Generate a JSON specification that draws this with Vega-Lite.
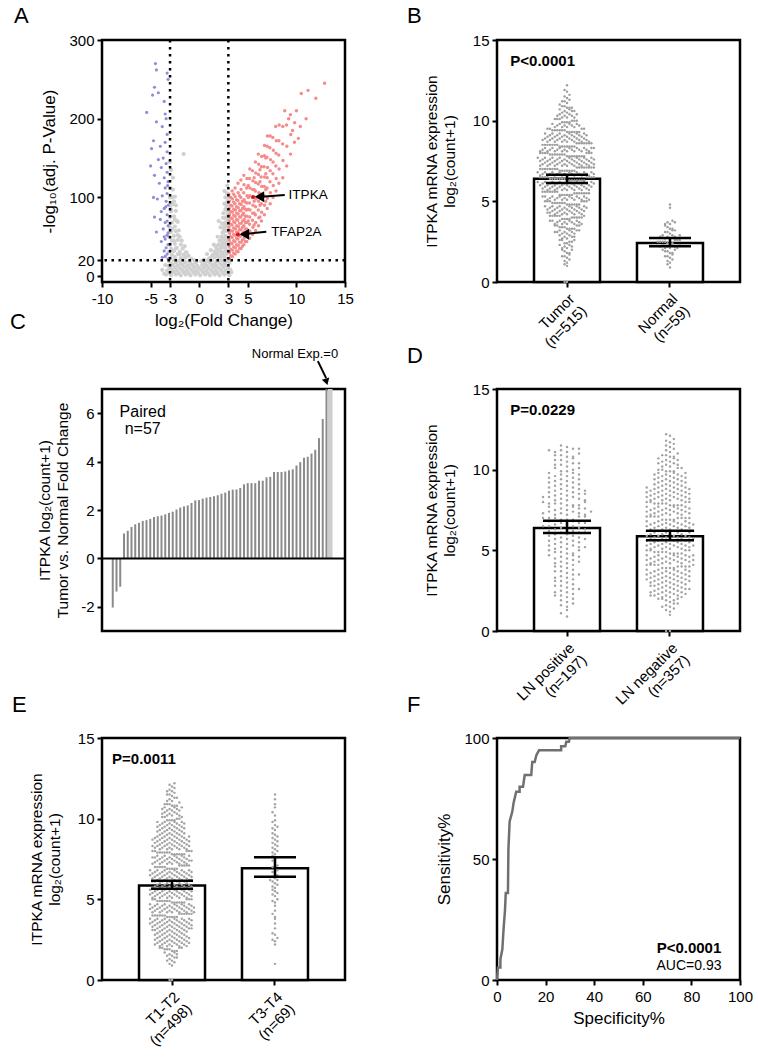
{
"$schema":"https://vega.github.io/schema/vega-lite/v6.json",
"background":"white",
"padding":{"left":8,"top":3,"right":0,"bottom":0},
"config":{
 "font":"Liberation Sans",
 "view":{"stroke":"black","strokeWidth":2.5},
 "axis":{"grid":false,"domain":false,"tickColor":"black","tickWidth":2,"tickSize":5,"labelColor":"black","labelFontSize":15,"labelFont":"Liberation Sans","labelOverlap":false,"labelFlush":false,"titleColor":"black","titleFont":"Liberation Sans","titleFontSize":15.5,"titleFontWeight":"normal","titleLineHeight":18},
 "axisX":{"labelPadding":4,"titlePadding":6},
 "axisY":{"labelPadding":3,"titlePadding":10},
 "title":{"font":"Liberation Sans","fontSize":22,"fontWeight":"normal","anchor":"start","frame":"group","color":"black","baseline":"alphabetic"},
 "text":{"font":"Liberation Sans","color":"black"}
},
"datasets":{
 "volGray":[{"x":-3.4,"y":2},{"x":-2.9,"y":1},{"x":-2.4,"y":2},{"x":-1.9,"y":1},{"x":-1.4,"y":2},{"x":-0.9,"y":1},{"x":-0.4,"y":2},{"x":0.1,"y":1},{"x":0.6,"y":2},{"x":1.1,"y":1},{"x":1.6,"y":2},{"x":2.1,"y":1},{"x":2.6,"y":2},{"x":3.1,"y":1},
 {"x":-3.1,"y":4},{"x":-2.6,"y":5},{"x":-2.1,"y":4},{"x":-1.6,"y":5},{"x":-1.1,"y":4},{"x":-0.6,"y":5},{"x":-0.1,"y":4},{"x":0.4,"y":5},{"x":0.9,"y":4},{"x":1.4,"y":5},{"x":1.9,"y":4},{"x":2.4,"y":5},{"x":2.9,"y":4},{"x":3.3,"y":5},
 {"x":-3.3,"y":7},{"x":-2.8,"y":8},{"x":-2.3,"y":7},{"x":-1.8,"y":8},{"x":-1.3,"y":7},{"x":-0.8,"y":8},{"x":-0.3,"y":7},{"x":0.2,"y":8},{"x":0.7,"y":7},{"x":1.2,"y":8},{"x":1.7,"y":7},{"x":2.2,"y":8},{"x":2.7,"y":7},{"x":3.2,"y":8},
 {"x":-3.0,"y":10},{"x":-2.5,"y":11},{"x":-2.0,"y":10},{"x":-1.5,"y":11},{"x":-1.0,"y":10},{"x":-0.5,"y":11},{"x":0.0,"y":10},{"x":0.5,"y":11},{"x":1.0,"y":10},{"x":1.5,"y":11},{"x":2.0,"y":10},{"x":2.5,"y":11},{"x":3.0,"y":10},
 {"x":-3.2,"y":13},{"x":-2.7,"y":14},{"x":-2.2,"y":13},{"x":-1.7,"y":14},{"x":-1.2,"y":13},{"x":-0.7,"y":14},{"x":-0.2,"y":13},{"x":0.3,"y":14},{"x":0.8,"y":13},{"x":1.3,"y":14},{"x":1.8,"y":13},{"x":2.3,"y":14},{"x":2.8,"y":13},
 {"x":-2.9,"y":16},{"x":-2.4,"y":17},{"x":-1.9,"y":16},{"x":-1.4,"y":17},{"x":-0.9,"y":16},{"x":-0.4,"y":17},{"x":0.6,"y":16},{"x":1.1,"y":17},{"x":1.6,"y":16},{"x":2.1,"y":17},{"x":2.6,"y":16},{"x":3.1,"y":17},
 {"x":-3.1,"y":19},{"x":-2.6,"y":20},{"x":-2.1,"y":19},{"x":-1.6,"y":20},{"x":-1.0,"y":19},{"x":-0.3,"y":18},{"x":0.8,"y":19},{"x":1.3,"y":20},{"x":1.8,"y":19},{"x":2.3,"y":20},{"x":2.8,"y":19},
 {"x":-3.0,"y":23},{"x":-2.5,"y":24},{"x":-1.9,"y":23},{"x":-1.4,"y":24},{"x":-0.8,"y":22},{"x":1.1,"y":23},{"x":1.6,"y":24},{"x":2.1,"y":23},{"x":2.6,"y":24},{"x":2.9,"y":22},
 {"x":-2.8,"y":27},{"x":-2.2,"y":28},{"x":-1.6,"y":27},{"x":-1.1,"y":26},{"x":1.4,"y":27},{"x":1.9,"y":28},{"x":2.4,"y":27},{"x":2.8,"y":28},
 {"x":-3.1,"y":31},{"x":-2.6,"y":32},{"x":-2.0,"y":31},{"x":-1.4,"y":30},{"x":1.6,"y":31},{"x":2.1,"y":32},{"x":2.6,"y":31},{"x":2.9,"y":33},
 {"x":-2.9,"y":35},{"x":-2.3,"y":36},{"x":-1.7,"y":35},{"x":1.8,"y":35},{"x":2.3,"y":36},{"x":2.7,"y":35},
 {"x":-3.0,"y":40},{"x":-2.5,"y":41},{"x":-1.9,"y":40},{"x":2.0,"y":40},{"x":2.4,"y":41},{"x":2.8,"y":40},
 {"x":-2.8,"y":45},{"x":-2.2,"y":46},{"x":2.2,"y":45},{"x":2.6,"y":46},{"x":2.9,"y":45},
 {"x":-3.1,"y":50},{"x":-2.6,"y":51},{"x":-2.0,"y":50},{"x":2.3,"y":50},{"x":2.7,"y":51},
 {"x":-2.9,"y":56},{"x":-2.4,"y":57},{"x":2.5,"y":56},{"x":2.9,"y":57},
 {"x":-3.0,"y":62},{"x":-2.5,"y":63},{"x":2.6,"y":62},{"x":2.9,"y":63},
 {"x":-2.8,"y":68},{"x":-2.2,"y":69},{"x":2.7,"y":68},{"x":2.95,"y":69},
 {"x":-3.0,"y":75},{"x":-2.6,"y":76},{"x":2.8,"y":75},
 {"x":-2.9,"y":82},{"x":-2.4,"y":83},{"x":2.9,"y":82},
 {"x":-3.0,"y":90},{"x":-2.7,"y":91},{"x":2.95,"y":90},
 {"x":-2.8,"y":100},{"x":-2.5,"y":101},{"x":-3.0,"y":112},{"x":-2.7,"y":125},{"x":-1.6,"y":155},{"x":-2.9,"y":135},{"x":-3.05,"y":145},
 {"x":2.2,"y":38},{"x":2.5,"y":48},{"x":2.8,"y":58},{"x":2.6,"y":66},{"x":2.9,"y":72},{"x":2.4,"y":55},{"x":2.7,"y":85},{"x":2.9,"y":95},{"x":2.85,"y":105},{"x":2.5,"y":80},{"x":2.2,"y":62},{"x":1.9,"y":50},{"x":1.5,"y":40},{"x":1.2,"y":33},{"x":0.8,"y":28},{"x":2.0,"y":70},
 {"x":-2.3,"y":70},{"x":-2.1,"y":58},{"x":-1.8,"y":45},{"x":-1.5,"y":38},{"x":-2.7,"y":110},{"x":-2.4,"y":90},{"x":-1.3,"y":30},
 {"x":-3.6,"y":3},{"x":-3.8,"y":8},{"x":-3.5,"y":14},
 {"x":1.0,"y":22},{"x":1.3,"y":25},{"x":1.7,"y":29},{"x":2.0,"y":33},{"x":2.3,"y":30},{"x":2.6,"y":37},{"x":2.8,"y":43},{"x":2.45,"y":42},{"x":2.1,"y":45},{"x":1.7,"y":38},{"x":2.75,"y":50},{"x":2.55,"y":60},{"x":2.35,"y":67},{"x":2.75,"y":65},{"x":2.95,"y":78},{"x":2.65,"y":74},{"x":2.45,"y":74},{"x":2.8,"y":90},{"x":2.6,"y":92},{"x":2.95,"y":100},{"x":2.7,"y":100},{"x":2.9,"y":115},{"x":2.6,"y":108},{"x":0.5,"y":21},{"x":0.2,"y":19},{"x":-0.5,"y":20},{"x":1.9,"y":25},{"x":2.3,"y":26},
 {"x":-2.8,"y":60},{"x":-2.6,"y":45},{"x":-2.4,"y":35},{"x":-2.0,"y":28},{"x":-1.8,"y":22},{"x":-2.9,"y":85},{"x":-2.5,"y":72},{"x":-2.2,"y":52},{"x":-3.0,"y":100},{"x":-2.6,"y":95}],
 "volBlue":[{"x":-4.5,"y":270},{"x":-4.4,"y":262},{"x":-3.3,"y":258},{"x":-3.2,"y":250},{"x":-4.6,"y":240},{"x":-4.2,"y":233},{"x":-4.8,"y":230},{"x":-3.6,"y":222},{"x":-5.4,"y":208},{"x":-3.5,"y":206},{"x":-3.4,"y":200},{"x":-4.4,"y":196},{"x":-3.8,"y":190},{"x":-3.3,"y":180},{"x":-4.7,"y":172},{"x":-3.5,"y":170},{"x":-4.0,"y":165},{"x":-4.9,"y":162},{"x":-3.3,"y":158},{"x":-3.7,"y":150},{"x":-4.2,"y":148},{"x":-3.4,"y":143},{"x":-3.9,"y":138},{"x":-3.3,"y":132},{"x":-4.6,"y":128},{"x":-3.6,"y":125},{"x":-3.2,"y":120},{"x":-4.1,"y":118},{"x":-3.5,"y":112},{"x":-3.3,"y":105},{"x":-3.8,"y":102},{"x":-4.3,"y":98},{"x":-3.4,"y":95},{"x":-3.2,"y":90},{"x":-3.6,"y":86},{"x":-3.9,"y":82},{"x":-3.3,"y":78},{"x":-4.0,"y":72},{"x":-3.5,"y":68},{"x":-3.2,"y":64},{"x":-3.7,"y":60},{"x":-4.4,"y":56},{"x":-3.3,"y":52},{"x":-3.5,"y":47},{"x":-3.9,"y":44},{"x":-3.2,"y":40},{"x":-3.4,"y":36},{"x":-3.6,"y":32},{"x":-3.3,"y":28},{"x":-3.5,"y":25},{"x":-3.2,"y":22},{"x":-3.8,"y":24},{"x":-4.7,"y":100},{"x":-5.0,"y":140},{"x":-4.6,"y":75},{"x":-3.25,"y":115},{"x":-3.45,"y":88},{"x":-3.3,"y":70},{"x":-3.2,"y":55},{"x":-3.6,"y":50}],
 "volRed":[{"x":3.1,"y":22},{"x":3.12,"y":30},{"x":3.08,"y":38},{"x":3.1,"y":46},{"x":3.13,"y":54},{"x":3.07,"y":62},{"x":3.1,"y":70},{"x":3.12,"y":78},{"x":3.09,"y":86},{"x":3.1,"y":95},{"x":3.06,"y":104},
 {"x":3.4,"y":25},{"x":3.42,"y":33},{"x":3.38,"y":41},{"x":3.4,"y":49},{"x":3.43,"y":57},{"x":3.37,"y":65},{"x":3.4,"y":73},{"x":3.42,"y":81},{"x":3.38,"y":89},{"x":3.41,"y":98},{"x":3.39,"y":108},
 {"x":3.7,"y":28},{"x":3.72,"y":36},{"x":3.68,"y":44},{"x":3.7,"y":52},{"x":3.73,"y":60},{"x":3.67,"y":68},{"x":3.7,"y":76},{"x":3.72,"y":84},{"x":3.68,"y":92},{"x":3.71,"y":101},{"x":3.69,"y":112},
 {"x":4.0,"y":31},{"x":4.02,"y":39},{"x":3.98,"y":47},{"x":4.0,"y":55},{"x":4.03,"y":63},{"x":3.97,"y":71},{"x":4.0,"y":79},{"x":4.02,"y":87},{"x":3.98,"y":96},{"x":4.01,"y":106},{"x":3.99,"y":118},
 {"x":4.3,"y":35},{"x":4.32,"y":43},{"x":4.28,"y":51},{"x":4.3,"y":59},{"x":4.33,"y":67},{"x":4.27,"y":75},{"x":4.3,"y":83},{"x":4.32,"y":91},{"x":4.28,"y":100},{"x":4.31,"y":110},{"x":4.29,"y":122},
 {"x":4.6,"y":40},{"x":4.62,"y":48},{"x":4.58,"y":56},{"x":4.6,"y":64},{"x":4.63,"y":72},{"x":4.57,"y":80},{"x":4.6,"y":88},{"x":4.62,"y":97},{"x":4.58,"y":106},{"x":4.61,"y":116},{"x":4.59,"y":128},
 {"x":4.9,"y":44},{"x":4.92,"y":52},{"x":4.88,"y":60},{"x":4.9,"y":68},{"x":4.93,"y":76},{"x":4.87,"y":84},{"x":4.9,"y":93},{"x":4.92,"y":102},{"x":4.88,"y":112},{"x":4.91,"y":124},
 {"x":5.2,"y":48},{"x":5.22,"y":57},{"x":5.18,"y":66},{"x":5.2,"y":75},{"x":5.23,"y":84},{"x":5.17,"y":93},{"x":5.2,"y":102},{"x":5.22,"y":112},{"x":5.18,"y":124},{"x":5.21,"y":136},
 {"x":5.5,"y":53},{"x":5.52,"y":62},{"x":5.48,"y":71},{"x":5.5,"y":80},{"x":5.53,"y":90},{"x":5.47,"y":100},{"x":5.5,"y":110},{"x":5.52,"y":121},{"x":5.48,"y":134},
 {"x":5.8,"y":58},{"x":5.82,"y":68},{"x":5.78,"y":78},{"x":5.8,"y":88},{"x":5.83,"y":98},{"x":5.77,"y":108},{"x":5.8,"y":119},{"x":5.82,"y":131},{"x":5.78,"y":145},
 {"x":6.1,"y":64},{"x":6.12,"y":74},{"x":6.08,"y":84},{"x":6.1,"y":95},{"x":6.13,"y":106},{"x":6.07,"y":117},{"x":6.1,"y":129},{"x":6.12,"y":142},{"x":6.08,"y":155},
 {"x":6.4,"y":70},{"x":6.42,"y":81},{"x":6.38,"y":92},{"x":6.4,"y":103},{"x":6.43,"y":114},{"x":6.37,"y":126},{"x":6.4,"y":139},{"x":6.42,"y":152},
 {"x":6.7,"y":78},{"x":6.72,"y":90},{"x":6.68,"y":102},{"x":6.7,"y":114},{"x":6.73,"y":126},{"x":6.67,"y":139},{"x":6.7,"y":153},{"x":6.72,"y":166},
 {"x":7.0,"y":86},{"x":7.02,"y":99},{"x":6.98,"y":112},{"x":7.0,"y":125},{"x":7.03,"y":138},{"x":6.97,"y":151},{"x":7.0,"y":165},{"x":7.02,"y":178},
 {"x":7.3,"y":92},{"x":7.32,"y":106},{"x":7.28,"y":120},{"x":7.3,"y":134},{"x":7.33,"y":148},{"x":7.27,"y":163},{"x":7.3,"y":178},
 {"x":7.6,"y":100},{"x":7.62,"y":115},{"x":7.58,"y":130},{"x":7.6,"y":145},{"x":7.63,"y":160},{"x":7.57,"y":176},
 {"x":7.9,"y":108},{"x":7.92,"y":124},{"x":7.88,"y":140},{"x":7.9,"y":156},{"x":7.93,"y":172},{"x":7.87,"y":190},
 {"x":8.2,"y":118},{"x":8.22,"y":136},{"x":8.18,"y":154},{"x":8.2,"y":172},{"x":8.23,"y":192},
 {"x":8.6,"y":125},{"x":8.62,"y":147},{"x":8.58,"y":168},{"x":8.6,"y":190},
 {"x":9.0,"y":140},{"x":9.02,"y":165},{"x":8.98,"y":192},
 {"x":9.4,"y":155},{"x":9.42,"y":180},{"x":9.38,"y":205},
 {"x":9.8,"y":170},{"x":9.82,"y":195},{"x":10.2,"y":175},
 {"x":10.5,"y":232},{"x":11.2,"y":236},{"x":12.0,"y":226},{"x":12.9,"y":245},{"x":10.0,"y":210},{"x":11.0,"y":200},{"x":9.6,"y":185},{"x":10.4,"y":190},{"x":9.2,"y":200},{"x":8.8,"y":210},
 {"x":3.25,"y":26},{"x":3.25,"y":34},{"x":3.25,"y":42},{"x":3.25,"y":50},{"x":3.25,"y":58},{"x":3.25,"y":66},{"x":3.25,"y":74},{"x":3.25,"y":82},{"x":3.25,"y":90},{"x":3.25,"y":100},
 {"x":3.55,"y":29},{"x":3.55,"y":37},{"x":3.55,"y":45},{"x":3.55,"y":53},{"x":3.55,"y":61},{"x":3.55,"y":69},{"x":3.55,"y":77},{"x":3.55,"y":85},{"x":3.55,"y":94},{"x":3.55,"y":104},
 {"x":3.85,"y":32},{"x":3.85,"y":40},{"x":3.85,"y":48},{"x":3.85,"y":56},{"x":3.85,"y":64},{"x":3.85,"y":72},{"x":3.85,"y":80},{"x":3.85,"y":88},{"x":3.85,"y":97},
 {"x":4.15,"y":35},{"x":4.15,"y":43},{"x":4.15,"y":51},{"x":4.15,"y":59},{"x":4.15,"y":67},{"x":4.15,"y":75},{"x":4.15,"y":83},{"x":4.15,"y":92},{"x":4.15,"y":102},
 {"x":4.45,"y":38},{"x":4.45,"y":46},{"x":4.45,"y":54},{"x":4.45,"y":62},{"x":4.45,"y":70},{"x":4.45,"y":78},{"x":4.45,"y":86},{"x":4.45,"y":95},
 {"x":4.75,"y":44},{"x":4.75,"y":52},{"x":4.75,"y":60},{"x":4.75,"y":68},{"x":4.75,"y":76},{"x":4.75,"y":85},{"x":4.75,"y":94},
 {"x":5.05,"y":55},{"x":5.05,"y":70},{"x":5.05,"y":85},{"x":5.05,"y":100},{"x":5.05,"y":115},
 {"x":5.65,"y":65},{"x":5.65,"y":80},{"x":5.65,"y":95},{"x":5.65,"y":110},{"x":5.65,"y":125},
 {"x":6.25,"y":75},{"x":6.25,"y":90},{"x":6.25,"y":105},{"x":6.25,"y":120},{"x":6.25,"y":135},
 {"x":6.85,"y":95},{"x":6.85,"y":110},{"x":6.85,"y":130},{"x":6.85,"y":150}],
 "sumB":[{"g":"Tumor","m":6.4,"lo":6.14,"hi":6.65},{"g":"Normal","m":2.42,"lo":2.21,"hi":2.73}],
 "sumD":[{"g":"LN positive","m":6.39,"lo":6.08,"hi":6.84},{"g":"LN negative","m":5.87,"lo":5.62,"hi":6.22}],
 "sumE":[{"g":"T1-T2","m":5.86,"lo":5.66,"hi":6.15},{"g":"T3-T4","m":6.93,"lo":6.4,"hi":7.61}],
 "tumorB":[0,0,1,1.1,1.2,1.3,1.4,1.5,1.6,1.7,1.8,1.9,1.6,1.8,
 2,2.1,2.2,2.3,2.4,2,2.1,2.2,2.3,2.4,
 2.5,2.6,2.7,2.8,2.9,2.5,2.6,2.7,2.8,2.9,2.6,2.8,
 3,3.1,3.2,3.3,3.4,3,3.1,3.2,3.3,3.4,3,3.1,3.2,3.3,3.4,3.1,3.2,3.3,
 3.5,3.6,3.7,3.8,3.9,3.5,3.6,3.7,3.8,3.9,3.5,3.6,3.7,3.8,3.9,3.5,3.6,3.7,3.8,3.9,3.6,3.8,
 4,4.1,4.2,4.3,4.4,4,4.1,4.2,4.3,4.4,4,4.1,4.2,4.3,4.4,4,4.1,4.2,4.3,4.4,4,4.1,4.2,4.3,4.4,4.1,4.3,
 4.5,4.6,4.7,4.8,4.9,4.5,4.6,4.7,4.8,4.9,4.5,4.6,4.7,4.8,4.9,4.5,4.6,4.7,4.8,4.9,4.5,4.6,4.7,4.8,4.9,4.5,4.6,4.7,4.8,4.9,
 5,5.1,5.2,5.3,5.4,5,5.1,5.2,5.3,5.4,5,5.1,5.2,5.3,5.4,5,5.1,5.2,5.3,5.4,5,5.1,5.2,5.3,5.4,5,5.1,5.2,5.3,5.4,5.1,5.3,
 5.5,5.6,5.7,5.8,5.9,5.5,5.6,5.7,5.8,5.9,5.5,5.6,5.7,5.8,5.9,5.5,5.6,5.7,5.8,5.9,5.5,5.6,5.7,5.8,5.9,5.5,5.6,5.7,5.8,5.9,5.5,5.6,5.7,5.8,5.9,
 6,6.1,6.2,6.3,6.4,6,6.1,6.2,6.3,6.4,6,6.1,6.2,6.3,6.4,6,6.1,6.2,6.3,6.4,6,6.1,6.2,6.3,6.4,6,6.1,6.2,6.3,6.4,6,6.1,6.2,6.3,6.4,6,6.1,6.2,6.3,
 6.5,6.6,6.7,6.8,6.9,6.5,6.6,6.7,6.8,6.9,6.5,6.6,6.7,6.8,6.9,6.5,6.6,6.7,6.8,6.9,6.5,6.6,6.7,6.8,6.9,6.5,6.6,6.7,6.8,6.9,6.5,6.6,6.7,6.8,6.9,6.5,6.6,6.7,6.8,
 7,7.1,7.2,7.3,7.4,7,7.1,7.2,7.3,7.4,7,7.1,7.2,7.3,7.4,7,7.1,7.2,7.3,7.4,7,7.1,7.2,7.3,7.4,7,7.1,7.2,7.3,7.4,7,7.1,7.2,7.3,7.4,7,7.1,7.2,7.3,
 7.5,7.6,7.7,7.8,7.9,7.5,7.6,7.7,7.8,7.9,7.5,7.6,7.7,7.8,7.9,7.5,7.6,7.7,7.8,7.9,7.5,7.6,7.7,7.8,7.9,7.5,7.6,7.7,7.8,7.9,7.5,7.6,7.7,7.8,7.9,7.5,7.6,7.7,7.8,
 8,8.1,8.2,8.3,8.4,8,8.1,8.2,8.3,8.4,8,8.1,8.2,8.3,8.4,8,8.1,8.2,8.3,8.4,8,8.1,8.2,8.3,8.4,8,8.1,8.2,8.3,8.4,8,8.1,8.2,8.3,8.4,8.1,8.3,
 8.5,8.6,8.7,8.8,8.9,8.5,8.6,8.7,8.8,8.9,8.5,8.6,8.7,8.8,8.9,8.5,8.6,8.7,8.8,8.9,8.5,8.6,8.7,8.8,8.9,8.5,8.6,8.7,8.8,8.9,8.5,8.6,8.7,8.8,
 9,9.1,9.2,9.3,9.4,9,9.1,9.2,9.3,9.4,9,9.1,9.2,9.3,9.4,9,9.1,9.2,9.3,9.4,9,9.1,9.2,9.3,9.4,9,9.1,9.2,9.3,9.4,
 9.5,9.6,9.7,9.8,9.9,9.5,9.6,9.7,9.8,9.9,9.5,9.6,9.7,9.8,9.9,9.5,9.6,9.7,9.8,9.9,
 10,10.1,10.2,10.3,10.4,10,10.1,10.2,10.3,10.4,10,10.1,10.2,10.3,10.4,
 10.5,10.6,10.7,10.8,10.9,10.5,10.6,10.7,10.8,10.9,10.6,10.8,
 11,11.1,11.2,11.3,11.4,11.2,11.5,11.6,11.8,11.9,12.2],
 "normalB":[0.9,1.1,1.2,1.3,1.4,1.5,1.6,1.7,1.8,1.9,1.6,1.8,1.9,
 2,2.1,2.2,2.3,2.4,2,2.1,2.2,2.3,2.4,2.1,2.2,2.3,2.4,
 2.5,2.6,2.7,2.8,2.9,2.5,2.6,2.7,2.8,2.9,2.5,2.6,2.7,2.8,2.9,2.5,
 3,3.1,3.2,3.3,3.4,3.1,3.2,3.3,3.5,3.6,3.7,3.8,3.6,3.7,4.6,4.8],
 "lnPos":[0.9,1.1,1.3,1.5,1.6,1.8,1.9,1.7,
 2,2.1,2.2,2.3,2.4,2.5,2.6,2.7,2.8,2.9,2.2,2.4,2.6,2.8,
 3,3.1,3.2,3.3,3.4,3.5,3.6,3.7,3.8,3.9,3.1,3.3,3.5,3.7,
 4,4.1,4.2,4.3,4.4,4.5,4.6,4.7,4.8,4.9,4,4.2,4.3,4.5,4.6,4.7,4.8,4.9,
 5,5.1,5.2,5.3,5.4,5.5,5.6,5.7,5.8,5.9,5,5.1,5.2,5.3,5.4,5.5,5.6,5.7,5.8,5.9,5.2,5.7,
 6,6.1,6.2,6.3,6.4,6.5,6.6,6.7,6.8,6.9,6,6.1,6.2,6.3,6.4,6.5,6.6,6.7,6.8,6.9,6.1,6.3,6.5,6.7,6.9,
 7,7.1,7.2,7.3,7.4,7.5,7.6,7.7,7.8,7.9,7,7.1,7.2,7.3,7.4,7.5,7.6,7.7,7.8,7.9,7,7.2,7.3,7.4,7.6,7.8,7.9,
 8,8.1,8.2,8.3,8.4,8.5,8.6,8.7,8.8,8.9,8,8.1,8.2,8.3,8.4,8.5,8.6,8.7,8.8,8.9,8.1,8.3,8.5,8.7,
 9,9.1,9.2,9.3,9.4,9.5,9.6,9.7,9.8,9.9,9,9.1,9.2,9.3,9.4,9.5,9.6,9.7,9.8,9.9,
 10,10.1,10.2,10.3,10.4,10.5,10.6,10.7,10.8,10.9,10.1,10.3,10.4,10.6,10.8,10.9,
 11,11.1,11.2,11.3,11.4,11.5,11.1,11.3,11.2],
 "lnNeg":[0,0,1,1.2,1.3,1.4,1.5,1.6,1.7,1.8,1.9,1.5,1.7,1.9,
 2,2.1,2.2,2.3,2.4,2.5,2.6,2.7,2.8,2.9,2,2.1,2.2,2.3,2.4,2.5,2.6,2.7,2.8,2.9,2,2.1,2.2,2.3,2.4,2.5,2.6,2.7,2.8,2.9,2.2,2.4,2.6,2.8,
 3,3.1,3.2,3.3,3.4,3.5,3.6,3.7,3.8,3.9,3,3.1,3.2,3.3,3.4,3.5,3.6,3.7,3.8,3.9,3,3.1,3.2,3.3,3.4,3.5,3.6,3.7,3.8,3.9,3,3.1,3.2,3.3,3.4,3.5,3.6,3.7,3.8,3.9,
 4,4.1,4.2,4.3,4.4,4.5,4.6,4.7,4.8,4.9,4,4.1,4.2,4.3,4.4,4.5,4.6,4.7,4.8,4.9,4,4.1,4.2,4.3,4.4,4.5,4.6,4.7,4.8,4.9,4,4.1,4.2,4.3,4.4,4.5,4.6,4.7,4.8,4.9,4.1,4.4,4.7,
 5,5.1,5.2,5.3,5.4,5.5,5.6,5.7,5.8,5.9,5,5.1,5.2,5.3,5.4,5.5,5.6,5.7,5.8,5.9,5,5.1,5.2,5.3,5.4,5.5,5.6,5.7,5.8,5.9,5,5.1,5.2,5.3,5.4,5.5,5.6,5.7,5.8,5.9,5.3,5.7,
 6,6.1,6.2,6.3,6.4,6.5,6.6,6.7,6.8,6.9,6,6.1,6.2,6.3,6.4,6.5,6.6,6.7,6.8,6.9,6,6.1,6.2,6.3,6.4,6.5,6.6,6.7,6.8,6.9,6,6.1,6.2,6.3,6.4,6.5,6.6,6.7,6.8,6.9,6.2,6.6,
 7,7.1,7.2,7.3,7.4,7.5,7.6,7.7,7.8,7.9,7,7.1,7.2,7.3,7.4,7.5,7.6,7.7,7.8,7.9,7,7.1,7.2,7.3,7.4,7.5,7.6,7.7,7.8,7.9,7,7.1,7.2,7.3,7.4,7.5,7.6,7.7,7.8,7.9,
 8,8.1,8.2,8.3,8.4,8.5,8.6,8.7,8.8,8.9,8,8.1,8.2,8.3,8.4,8.5,8.6,8.7,8.8,8.9,8,8.1,8.2,8.3,8.4,8.5,8.6,8.7,8.8,8.9,8,8.1,8.2,8.3,8.4,8.5,8.6,8.7,8.8,8.9,
 9,9.1,9.2,9.3,9.4,9.5,9.6,9.7,9.8,9.9,9,9.1,9.2,9.3,9.4,9.5,9.6,9.7,9.8,9.9,9,9.1,9.2,9.3,9.4,9.5,9.6,9.7,9.8,9.9,
 10,10.1,10.2,10.3,10.4,10.5,10.6,10.7,10.8,10.9,10,10.1,10.2,10.3,10.4,10.5,10.6,10.7,10.8,10.9,
 11,11.1,11.2,11.3,11.4,11.5,11.6,11.7,11.8,11.9,12.1,12.2],
 "t12":[0,0,0.9,1,1.1,1.2,1.3,1.4,1.5,1.6,1.7,1.8,1.9,1.2,1.4,1.5,1.6,1.7,1.8,1.9,1.8,1.9,
 2,2.1,2.2,2.3,2.4,2.5,2.6,2.7,2.8,2.9,2,2.1,2.2,2.3,2.4,2.5,2.6,2.7,2.8,2.9,2,2.1,2.2,2.3,2.4,2.5,2.6,2.7,2.8,2.9,2,2.1,2.2,2.3,2.4,2.5,2.6,2.7,2.8,2.9,2.1,2.2,2.3,2.4,2.5,2.6,2.7,2.8,
 3,3.1,3.2,3.3,3.4,3.5,3.6,3.7,3.8,3.9,3,3.1,3.2,3.3,3.4,3.5,3.6,3.7,3.8,3.9,3,3.1,3.2,3.3,3.4,3.5,3.6,3.7,3.8,3.9,3,3.1,3.2,3.3,3.4,3.5,3.6,3.7,3.8,3.9,3,3.1,3.2,3.3,3.4,3.5,3.6,3.7,3.8,3.9,3.1,3.2,3.3,3.4,3.5,3.6,3.7,3.8,
 4,4.1,4.2,4.3,4.4,4.5,4.6,4.7,4.8,4.9,4,4.1,4.2,4.3,4.4,4.5,4.6,4.7,4.8,4.9,4,4.1,4.2,4.3,4.4,4.5,4.6,4.7,4.8,4.9,4,4.1,4.2,4.3,4.4,4.5,4.6,4.7,4.8,4.9,4,4.1,4.2,4.3,4.4,4.5,4.6,4.7,4.8,4.9,4,4.1,4.2,4.3,4.4,4.5,4.6,4.7,4.8,4.9,4.2,4.5,
 5,5.1,5.2,5.3,5.4,5.5,5.6,5.7,5.8,5.9,5,5.1,5.2,5.3,5.4,5.5,5.6,5.7,5.8,5.9,5,5.1,5.2,5.3,5.4,5.5,5.6,5.7,5.8,5.9,5,5.1,5.2,5.3,5.4,5.5,5.6,5.7,5.8,5.9,5,5.1,5.2,5.3,5.4,5.5,5.6,5.7,5.8,5.9,5.1,5.2,5.3,5.4,5.5,5.6,5.7,5.8,
 6,6.1,6.2,6.3,6.4,6.5,6.6,6.7,6.8,6.9,6,6.1,6.2,6.3,6.4,6.5,6.6,6.7,6.8,6.9,6,6.1,6.2,6.3,6.4,6.5,6.6,6.7,6.8,6.9,6,6.1,6.2,6.3,6.4,6.5,6.6,6.7,6.8,6.9,6,6.1,6.2,6.3,6.4,6.5,6.6,6.7,6.8,6.9,6.1,6.2,6.3,6.4,6.5,6.6,6.7,6.8,
 7,7.1,7.2,7.3,7.4,7.5,7.6,7.7,7.8,7.9,7,7.1,7.2,7.3,7.4,7.5,7.6,7.7,7.8,7.9,7,7.1,7.2,7.3,7.4,7.5,7.6,7.7,7.8,7.9,7,7.1,7.2,7.3,7.4,7.5,7.6,7.7,7.8,7.9,7,7.1,7.2,7.3,7.4,7.5,7.6,7.7,7.8,7.9,7.2,7.4,7.6,7.8,7.9,
 8,8.1,8.2,8.3,8.4,8.5,8.6,8.7,8.8,8.9,8,8.1,8.2,8.3,8.4,8.5,8.6,8.7,8.8,8.9,8,8.1,8.2,8.3,8.4,8.5,8.6,8.7,8.8,8.9,8,8.1,8.2,8.3,8.4,8.5,8.6,8.7,8.8,8.9,8,8.1,8.2,8.3,8.4,8.5,8.6,8.7,8.8,8.9,8.3,8.7,
 9,9.1,9.2,9.3,9.4,9.5,9.6,9.7,9.8,9.9,9,9.1,9.2,9.3,9.4,9.5,9.6,9.7,9.8,9.9,9,9.1,9.2,9.3,9.4,9.5,9.6,9.7,9.8,9.9,9,9.1,9.2,9.3,9.4,9.5,9.6,9.7,9.8,9.9,
 10,10.1,10.2,10.3,10.4,10.5,10.6,10.7,10.8,10.9,10,10.1,10.2,10.3,10.4,10.5,10.6,10.7,10.8,10.9,10.1,10.2,10.3,10.5,10.6,10.7,10.8,10.9,
 11,11.1,11.2,11.3,11.4,11.5,11.6,11.7,11.8,11.9,11.1,11.3,11.5,11.7,12,12.1,12.2],
 "t34":[1,2.2,2.4,2.5,2.6,2.8,2.9,3.2,3.5,3.8,3.9,4.1,4.3,4.6,4.8,4.9,5,5.2,5.3,5.5,5.6,5.7,5.8,5.9,5.4,6,6.1,6.2,6.3,6.4,6.5,6.6,6.7,6.8,6.9,6.2,7,7.1,7.3,7.4,7.5,7.7,7.8,7.9,7.6,8,8.1,8.2,8.3,8.4,8.5,8.6,8.7,8.8,8.9,9,9.1,9.3,9.4,9.6,9.8,9.9,9.5,10.2,10.4,10.7,10.9,11.2,11.5],
 "paired":[{"i":1,"v":-2.03},{"i":2,"v":-1.37},{"i":3,"v":-1.17},{"i":4,"v":1.03},{"i":5,"v":1.14},{"i":6,"v":1.3},{"i":7,"v":1.41},{"i":8,"v":1.47},{"i":9,"v":1.55},{"i":10,"v":1.58},{"i":11,"v":1.63},{"i":12,"v":1.71},{"i":13,"v":1.74},{"i":14,"v":1.77},{"i":15,"v":1.82},{"i":16,"v":1.88},{"i":17,"v":1.93},{"i":18,"v":2.02},{"i":19,"v":2.1},{"i":20,"v":2.15},{"i":21,"v":2.19},{"i":22,"v":2.29},{"i":23,"v":2.4},{"i":24,"v":2.41},{"i":25,"v":2.47},{"i":26,"v":2.51},{"i":27,"v":2.54},{"i":28,"v":2.57},{"i":29,"v":2.61},{"i":30,"v":2.67},{"i":31,"v":2.72},{"i":32,"v":2.8},{"i":33,"v":2.84},{"i":34,"v":2.85},{"i":35,"v":2.91},{"i":36,"v":3.06},{"i":37,"v":3.11},{"i":38,"v":3.11},{"i":39,"v":3.11},{"i":40,"v":3.21},{"i":41,"v":3.21},{"i":42,"v":3.35},{"i":43,"v":3.37},{"i":44,"v":3.57},{"i":45,"v":3.57},{"i":46,"v":3.57},{"i":47,"v":3.59},{"i":48,"v":3.64},{"i":49,"v":3.68},{"i":50,"v":3.84},{"i":51,"v":3.98},{"i":52,"v":4.16},{"i":53,"v":4.2},{"i":54,"v":4.33},{"i":55,"v":4.49},{"i":56,"v":4.97},{"i":57,"v":5.76},{"i":58,"v":7}],
 "roc":[{"i":0,"s":0,"e":0},{"i":1,"s":0.4,"e":5.2},{"i":2,"s":1.4,"e":5.2},{"i":3,"s":1.4,"e":8.6},{"i":4,"s":2.2,"e":12.7},{"i":5,"s":2.7,"e":21},{"i":6,"s":3.3,"e":29},{"i":7,"s":3.6,"e":36},{"i":8,"s":4.5,"e":36},{"i":9,"s":4.7,"e":54},{"i":10,"s":5.2,"e":65.5},{"i":11,"s":6.3,"e":69.6},{"i":12,"s":6.8,"e":73},{"i":13,"s":7.9,"e":77.8},{"i":14,"s":9.3,"e":77.8},{"i":15,"s":9.3,"e":79.9},{"i":16,"s":10.7,"e":79.9},{"i":17,"s":11.4,"e":84.7},{"i":18,"s":14.1,"e":84.7},{"i":19,"s":14.5,"e":90.1},{"i":20,"s":15.5,"e":90.1},{"i":21,"s":16.2,"e":92.9},{"i":22,"s":17.3,"e":94.9},{"i":23,"s":26.4,"e":94.9},{"i":24,"s":26.4,"e":96.6},{"i":25,"s":28.1,"e":96.6},{"i":26,"s":28.5,"e":98.4},{"i":27,"s":29.6,"e":98.4},{"i":28,"s":29.9,"e":100},{"i":29,"s":100,"e":100}]
},
"concat":[
 {"title":{"text":"A","dx":-88,"offset":5},"width":243,"height":242,
  "layer":[
   {"data":{"name":"volGray"},"mark":{"type":"circle","color":"#d0d0d0","size":18,"opacity":1},
    "encoding":{"x":{"field":"x","type":"quantitative","scale":{"domain":[-10,15],"nice":false,"zero":false},"axis":{"values":[-10,-5,-3,0,3,5,10,15],"tickCount":20,"labelOverlap":false,"labelExpr":"'' + datum.value","title":"log₂(Fold Change)","titleFontSize":17}},
     "y":{"field":"y","type":"quantitative","scale":{"domain":[-7.5,300],"nice":false,"zero":false},"axis":{"values":[0,20,100,200,300],"tickCount":20,"labelOverlap":false,"title":"-log₁₀(adj. P-Value)","titleFontSize":17}}}},
   {"data":{"name":"volBlue"},"mark":{"type":"circle","color":"#8e8ed8","size":10,"opacity":1},"encoding":{"x":{"field":"x","type":"quantitative"},"y":{"field":"y","type":"quantitative"}}},
   {"data":{"name":"volRed"},"mark":{"type":"circle","color":"#f58c8c","size":12,"opacity":1},"encoding":{"x":{"field":"x","type":"quantitative"},"y":{"field":"y","type":"quantitative"}}},
   {"data":{"values":[{"x":5.55,"y":100.5},{"x":3.98,"y":52.8}]},"mark":{"type":"circle","color":"#e3101a","size":16,"opacity":1},"encoding":{"x":{"field":"x","type":"quantitative"},"y":{"field":"y","type":"quantitative"}}},
   {"data":{"values":[{"v":-3},{"v":3}]},"mark":{"type":"rule","color":"black","strokeWidth":2.5,"strokeDash":[2.5,4.5]},"encoding":{"x":{"field":"v","type":"quantitative"}}},
   {"data":{"values":[{"v":20}]},"mark":{"type":"rule","color":"black","strokeWidth":2.5,"strokeDash":[2.5,4.5]},"encoding":{"y":{"field":"v","type":"quantitative"}}},
   {"data":{"values":[{"x":8.8,"y":103.2,"x2":6.4,"y2":100.9},{"x":6.9,"y":56.4,"x2":4.8,"y2":53.6}]},"mark":{"type":"rule","color":"black","strokeWidth":2},"encoding":{"x":{"field":"x","type":"quantitative"},"y":{"field":"y","type":"quantitative"},"x2":{"field":"x2"},"y2":{"field":"y2"}}},
   {"data":{"values":[{"x":6.2,"y":100.7},{"x":4.65,"y":53.3}]},"mark":{"type":"point","shape":"triangle-left","filled":true,"color":"black","size":120,"opacity":1},"encoding":{"x":{"field":"x","type":"quantitative"},"y":{"field":"y","type":"quantitative"}}},
   {"data":{"values":[{"x":9.2,"y":98.5,"t":"ITPKA"},{"x":7.4,"y":50.6,"t":"TFAP2A"}]},"mark":{"type":"text","align":"left","baseline":"alphabetic","fontSize":13.5},"encoding":{"x":{"field":"x","type":"quantitative"},"y":{"field":"y","type":"quantitative"},"text":{"field":"t"}}}
  ]},
 {"title":{"text":"B","dx":-90,"offset":5},"width":243,"height":242,
  "layer":[
   {"data":{"name":"sumB"},"mark":{"type":"bar","fill":"white","stroke":"black","strokeWidth":2.5,"width":66},
    "encoding":{"x":{"field":"g","type":"nominal","sort":null,"scale":{"domain":["Tumor","Normal"],"paddingInner":0.36,"paddingOuter":0.36},"axis":{"title":null,"labelAngle":-45,"labelLineHeight":17,"labelExpr":"datum.value == 'Tumor' ? ['Tumor', '(n=515)'] : ['Normal', '(n=59)']"}},
     "y":{"field":"m","type":"quantitative","scale":{"domain":[0,15],"nice":false},"axis":{"values":[0,5,10,15],"titlePadding":15,"title":["ITPKA mRNA expression","log₂(count+1)"]}}}},
   {"data":{"name":"tumorB"},"transform":[{"bin":{"step":0.3,"extent":[0,15]},"field":"data","as":"b"},{"window":[{"op":"row_number","as":"slot"}],"groupby":["b"]}],
    "mark":{"type":"circle","color":"#9e9e9e","size":6,"opacity":1},
    "encoding":{"x":{"datum":"Tumor"},"y":{"field":"data","type":"quantitative"},"xOffset":{"field":"slot","type":"nominal","scale":{"domain":[26,24,22,20,18,16,14,12,10,8,6,4,2,1,3,5,7,9,11,13,15,17,19,21,23,25,27]}}}},
   {"data":{"name":"normalB"},"transform":[{"bin":{"step":0.3,"extent":[0,15]},"field":"data","as":"b"},{"window":[{"op":"row_number","as":"slot"}],"groupby":["b"]}],
    "mark":{"type":"circle","color":"#9e9e9e","size":6,"opacity":1},
    "encoding":{"x":{"datum":"Normal"},"y":{"field":"data","type":"quantitative"},"xOffset":{"field":"slot","type":"nominal","scale":{"domain":[26,24,22,20,18,16,14,12,10,8,6,4,2,1,3,5,7,9,11,13,15,17,19,21,23,25,27]}}}},
   {"data":{"name":"sumB"},"mark":{"type":"rule","color":"black","strokeWidth":2.5},"encoding":{"x":{"field":"g","type":"nominal"},"y":{"field":"lo","type":"quantitative"},"y2":{"field":"hi"}}},
   {"data":{"name":"sumB"},"mark":{"type":"tick","orient":"horizontal","color":"black","size":42,"thickness":2.5,"opacity":1},"encoding":{"x":{"field":"g","type":"nominal"},"y":{"field":"lo","type":"quantitative"}}},
   {"data":{"name":"sumB"},"mark":{"type":"tick","orient":"horizontal","color":"black","size":42,"thickness":2.5,"opacity":1},"encoding":{"x":{"field":"g","type":"nominal"},"y":{"field":"hi","type":"quantitative"}}},
   {"data":{"values":[{}]},"mark":{"type":"text","text":"P<0.0001","fontSize":15,"fontWeight":"bold","align":"left","baseline":"alphabetic"},"encoding":{"x":{"datum":"Tumor","bandPosition":-0.36},"y":{"datum":13.4}}}
  ]},
 {"title":{"text":"C","dx":-92,"offset":14},"width":243,"height":242,
  "layer":[
   {"data":{"name":"paired"},"mark":{"type":"bar","color":"#8a8a8a","width":2},
    "encoding":{"x":{"field":"i","type":"quantitative","axis":null,"scale":{"domain":[-0.53,61.6],"nice":false,"zero":false}},
     "y":{"field":"v","type":"quantitative","scale":{"domain":[-3,7],"nice":false},"axis":{"values":[-2,0,2,4,6],"labelExpr":"'' + datum.value","title":["ITPKA log₂(count+1)","Tumor vs. Normal Fold Change"]}}}},
   {"data":{"values":[{"i":59,"v":7}]},"mark":{"type":"bar","color":"#cdcdcd","width":4.6},"encoding":{"x":{"field":"i","type":"quantitative"},"y":{"field":"v","type":"quantitative"}}},
   {"data":{"values":[{}]},"mark":{"type":"rule","color":"black","strokeWidth":2},"encoding":{"y":{"datum":0}}},
   {"data":{"values":[{}]},"mark":{"type":"text","text":["Paired","n=57"],"fontSize":16,"align":"center","baseline":"alphabetic","lineHeight":17},"encoding":{"x":{"datum":9},"y":{"datum":5.84}}},
   {"data":{"values":[{}]},"mark":{"type":"text","text":"Normal Exp.=0","fontSize":13,"align":"center","baseline":"alphabetic"},"encoding":{"x":{"datum":49.6},"y":{"datum":8.3}}},
   {"data":{"values":[{}]},"mark":{"type":"rule","color":"black","strokeWidth":2},"encoding":{"x":{"datum":55.7},"y":{"datum":8.15},"x2":{"datum":57.9},"y2":{"datum":7.45}}},
   {"data":{"values":[{}]},"mark":{"type":"point","shape":"triangle-down","angle":343,"filled":true,"color":"black","size":60,"opacity":1},"encoding":{"x":{"datum":58},"y":{"datum":7.3}}}
  ]},
 {"title":{"text":"D","dx":-90,"offset":14},"width":243,"height":242,
  "resolve":{"scale":{"xOffset":"independent"}},
  "layer":[
   {"data":{"name":"sumD"},"mark":{"type":"bar","fill":"white","stroke":"black","strokeWidth":2.5,"width":66},
    "encoding":{"x":{"field":"g","type":"nominal","sort":null,"scale":{"domain":["LN positive","LN negative"],"paddingInner":0.36,"paddingOuter":0.36},"axis":{"title":null,"labelAngle":-45,"labelLineHeight":17,"labelExpr":"datum.value == 'LN positive' ? ['LN positive', '(n=197)'] : ['LN negative', '(n=357)']"}},
     "y":{"field":"m","type":"quantitative","scale":{"domain":[0,15],"nice":false},"axis":{"values":[0,5,10,15],"titlePadding":15,"title":["ITPKA mRNA expression","log₂(count+1)"]}}}},
   {"data":{"name":"lnPos"},"transform":[{"bin":{"step":0.3,"extent":[0,15]},"field":"data","as":"b"},{"window":[{"op":"row_number","as":"slot"}],"groupby":["b"]}],
    "mark":{"type":"circle","color":"#a3a3a3","size":6,"opacity":1},
    "encoding":{"x":{"datum":"LN positive"},"y":{"field":"data","type":"quantitative"},"xOffset":{"field":"slot","type":"nominal","scale":{"domain":[10,8,6,4,2,1,3,5,7,9,11]}}}},
   {"data":{"name":"lnNeg"},"transform":[{"bin":{"step":0.3,"extent":[0,15]},"field":"data","as":"b"},{"window":[{"op":"row_number","as":"slot"}],"groupby":["b"]}],
    "mark":{"type":"circle","color":"#a3a3a3","size":6,"opacity":1},
    "encoding":{"x":{"datum":"LN negative"},"y":{"field":"data","type":"quantitative"},"xOffset":{"field":"slot","type":"nominal","scale":{"domain":[16,14,12,10,8,6,4,2,1,3,5,7,9,11,13,15,17]}}}},
   {"data":{"name":"sumD"},"mark":{"type":"rule","color":"black","strokeWidth":2.5},"encoding":{"x":{"field":"g","type":"nominal"},"y":{"field":"lo","type":"quantitative"},"y2":{"field":"hi"}}},
   {"data":{"name":"sumD"},"mark":{"type":"tick","orient":"horizontal","color":"black","size":48,"thickness":2.5,"opacity":1},"encoding":{"x":{"field":"g","type":"nominal"},"y":{"field":"lo","type":"quantitative"}}},
   {"data":{"name":"sumD"},"mark":{"type":"tick","orient":"horizontal","color":"black","size":48,"thickness":2.5,"opacity":1},"encoding":{"x":{"field":"g","type":"nominal"},"y":{"field":"hi","type":"quantitative"}}},
   {"data":{"values":[{}]},"mark":{"type":"text","text":"P=0.0229","fontSize":15,"fontWeight":"bold","align":"left","baseline":"alphabetic"},"encoding":{"x":{"datum":"LN positive","bandPosition":-0.36},"y":{"datum":13.4}}}
  ]},
 {"title":{"text":"E","dx":-90,"offset":14},"width":243,"height":242,
  "layer":[
   {"data":{"name":"sumE"},"mark":{"type":"bar","fill":"white","stroke":"black","strokeWidth":2.5,"width":66},
    "encoding":{"x":{"field":"g","type":"nominal","sort":null,"scale":{"domain":["T1-T2","T3-T4"],"paddingInner":0.36,"paddingOuter":0.36},"axis":{"title":null,"labelAngle":-45,"labelLineHeight":17,"labelExpr":"datum.value == 'T1-T2' ? ['T1-T2', '(n=498)'] : ['T3-T4', '(n=69)']"}},
     "y":{"field":"m","type":"quantitative","scale":{"domain":[0,15],"nice":false},"axis":{"values":[0,5,10,15],"titlePadding":15,"title":["ITPKA mRNA expression","log₂(count+1)"]}}}},
   {"data":{"name":"t12"},"transform":[{"bin":{"step":0.3,"extent":[0,15]},"field":"data","as":"b"},{"window":[{"op":"row_number","as":"slot"}],"groupby":["b"]}],
    "mark":{"type":"circle","color":"#a3a3a3","size":6,"opacity":1},
    "encoding":{"x":{"datum":"T1-T2"},"y":{"field":"data","type":"quantitative"},"xOffset":{"field":"slot","type":"nominal","scale":{"domain":[22,20,18,16,14,12,10,8,6,4,2,1,3,5,7,9,11,13,15,17,19,21,23]}}}},
   {"data":{"name":"t34"},"transform":[{"bin":{"step":0.3,"extent":[0,15]},"field":"data","as":"b"},{"window":[{"op":"row_number","as":"slot"}],"groupby":["b"]}],
    "mark":{"type":"circle","color":"#a3a3a3","size":6,"opacity":1},
    "encoding":{"x":{"datum":"T3-T4"},"y":{"field":"data","type":"quantitative"},"xOffset":{"field":"slot","type":"nominal","scale":{"domain":[22,20,18,16,14,12,10,8,6,4,2,1,3,5,7,9,11,13,15,17,19,21,23]}}}},
   {"data":{"name":"sumE"},"mark":{"type":"rule","color":"black","strokeWidth":2.5},"encoding":{"x":{"field":"g","type":"nominal"},"y":{"field":"lo","type":"quantitative"},"y2":{"field":"hi"}}},
   {"data":{"name":"sumE"},"mark":{"type":"tick","orient":"horizontal","color":"black","size":42,"thickness":2.5,"opacity":1},"encoding":{"x":{"field":"g","type":"nominal"},"y":{"field":"lo","type":"quantitative"}}},
   {"data":{"name":"sumE"},"mark":{"type":"tick","orient":"horizontal","color":"black","size":42,"thickness":2.5,"opacity":1},"encoding":{"x":{"field":"g","type":"nominal"},"y":{"field":"hi","type":"quantitative"}}},
   {"data":{"values":[{}]},"mark":{"type":"text","text":"P=0.0011","fontSize":15,"fontWeight":"bold","align":"left","baseline":"alphabetic"},"encoding":{"x":{"datum":"T1-T2","bandPosition":-0.41},"y":{"datum":13.4}}}
  ]},
 {"title":{"text":"F","dx":-90,"offset":14},"width":243,"height":242,
  "layer":[
   {"data":{"name":"roc"},"mark":{"type":"line","color":"#707070","strokeWidth":2.5},
    "encoding":{"x":{"field":"s","type":"quantitative","scale":{"domain":[0,100],"nice":false},"axis":{"values":[0,20,40,60,80,100],"tickCount":20,"title":"Specificity%","titleFontSize":17}},
     "y":{"field":"e","type":"quantitative","scale":{"domain":[0,100],"nice":false},"axis":{"values":[0,50,100],"title":"Sensitivity%","titleFontSize":17}},
     "order":{"field":"i","type":"quantitative"}}},
   {"data":{"values":[{}]},"mark":{"type":"text","text":"P<0.0001","fontSize":15,"fontWeight":"bold","align":"center","baseline":"alphabetic"},"encoding":{"x":{"datum":79},"y":{"datum":11.2}}},
   {"data":{"values":[{}]},"mark":{"type":"text","text":"AUC=0.93","fontSize":14,"align":"center","baseline":"alphabetic"},"encoding":{"x":{"datum":79},"y":{"datum":4.1}}}
  ]}
],
"columns":2,
"spacing":{"row":107,"column":152},
"bounds":"flush"
}
